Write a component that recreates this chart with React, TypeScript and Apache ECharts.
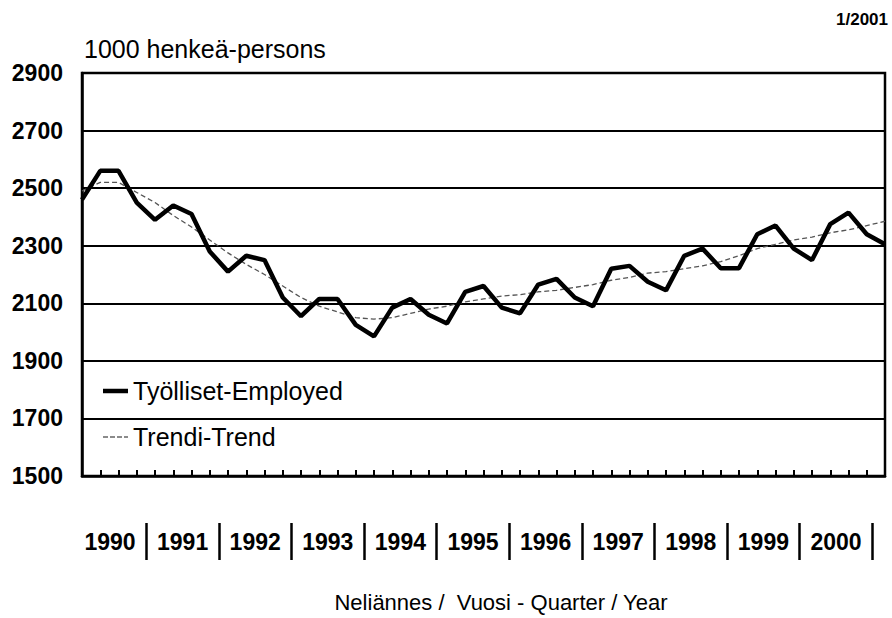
import React, { useEffect, useRef } from "react";
import * as echarts from "echarts";

const years: string[] = ["1990", "1991", "1992", "1993", "1994", "1995", "1996", "1997", "1998", "1999", "2000"];
const quarterNames: string[] = ["1", "2", "3", "4"];
const lastQuarter = "2001/1";
const quarters: string[] = [...years.flatMap((y) => quarterNames.map((q) => `${y}/${q}`)), lastQuarter];

const employed: number[] = [
  2460, 2560, 2560, 2450, 2390, 2440, 2410, 2280, 2210, 2265,
  2250, 2120, 2055, 2115, 2115, 2025, 1985, 2085, 2115, 2060,
  2030, 2140, 2160, 2085, 2065, 2165, 2185, 2120, 2090, 2220,
  2230, 2175, 2145, 2265, 2290, 2222, 2222, 2340, 2370, 2290,
  2250, 2375, 2415, 2340, 2305,
];

const trend: number[] = [
  2490, 2520, 2520, 2485, 2450, 2405, 2365, 2320, 2275, 2235,
  2200, 2160, 2120, 2090, 2070, 2050, 2045, 2050, 2065, 2080,
  2090, 2105, 2115, 2125, 2130, 2140, 2145, 2155, 2165, 2180,
  2190, 2205, 2210, 2220, 2230, 2245, 2265, 2290, 2305, 2320,
  2330, 2345, 2355, 2370, 2385,
];

const seriesNames: string[] = ["Työlliset-Employed", "Trendi-Trend"];
const yMin = 1500;
const yMax = 2900;
const yStep = 200;
const unitLabel = "1000 henkeä-persons";
const xTitle = "Neliännes /  Vuosi - Quarter / Year";
const issue = "1/2001";

const SANS = "'Liberation Sans', Arial, sans-serif";

const solidIcon = "path://M0,0h25v4.5h-25z";
const dashedIcon = "path://M0,0h5v1.3h-5z M7,0h5v1.3h-5z M14,0h5v1.3h-5z M21,0h4v1.3h-4z";

export default function App() {
  const ref = useRef<HTMLDivElement>(null);
  useEffect(() => {
    if (!ref.current) return;
    const chart = echarts.init(ref.current, undefined, { renderer: "svg" });
    chart.setOption({
      animation: false,
      backgroundColor: "#ffffff",
      title: {
        text: issue,
        right: 4,
        top: 11,
        padding: 0,
        textStyle: { fontFamily: SANS, fontSize: 17, fontWeight: "bold", color: "#000" },
      },
      legend: {
        orient: "vertical",
        left: 103,
        top: 376,
        padding: 0,
        itemWidth: 25,
        itemHeight: 14,
        itemGap: 16,
        symbolKeepAspect: true,
        data: [
          { name: seriesNames[0], icon: solidIcon, itemStyle: { color: "#000" } },
          { name: seriesNames[1], icon: dashedIcon, itemStyle: { color: "#666" } },
        ],
        textStyle: { fontFamily: SANS, fontSize: 25, lineHeight: 30, color: "#000" },
      },
      grid: [
        {
          left: 82, top: 73, width: 803, height: 403,
          outerBoundsMode: "none", containLabel: false,
          show: true, borderColor: "#000", borderWidth: 2.5, backgroundColor: "transparent",
        },
        { left: 73.7, top: 480, width: 798.6, height: 43, outerBoundsMode: "none", containLabel: false, show: false },
      ],
      xAxis: [
        {
          type: "category",
          gridIndex: 0,
          data: quarters,
          boundaryGap: false,
          axisLine: { show: true, lineStyle: { color: "#000", width: 2.5 } },
          axisTick: { show: true, inside: true, length: 6, interval: 0, lineStyle: { color: "#000", width: 2 } },
          axisLabel: { show: false },
          splitLine: { show: false },
        },
        {
          type: "category",
          gridIndex: 1,
          data: years,
          boundaryGap: true,
          position: "bottom",
          axisLine: { show: false },
          axisTick: {
            show: true,
            inside: false,
            length: 37,
            alignWithLabel: false,
            interval: (index: number) => index !== 0,
            lineStyle: { color: "#000", width: 2.5 },
          },
          axisLabel: {
            interval: 0,
            margin: 19,
            verticalAlign: "middle",
            fontFamily: SANS,
            fontSize: 23,
            fontWeight: "bold",
            color: "#000",
          },
          name: xTitle,
          nameLocation: "middle",
          nameGap: 68,
          nameMoveOverlap: false,
          nameTextStyle: { fontFamily: SANS, fontSize: 22, color: "#000", padding: [0, 0, 0, 56] },
          splitLine: { show: false },
        },
      ],
      yAxis: [
        {
          type: "value",
          gridIndex: 0,
          min: yMin,
          max: yMax,
          interval: yStep,
          axisLine: { show: true, lineStyle: { color: "#000", width: 2.5 } },
          axisTick: { show: false },
          axisLabel: {
            margin: 19,
            fontFamily: SANS,
            fontSize: 23,
            fontWeight: "bold",
            color: "#000",
            formatter: (v: number) => String(v),
          },
          splitLine: { show: true, lineStyle: { color: "#000", width: 2 } },
          name: unitLabel,
          nameLocation: "end",
          nameGap: 24,
          nameTextStyle: { fontFamily: SANS, fontSize: 25, color: "#000", align: "left", verticalAlign: "middle", padding: [0, 0, 0, 2] },
        },
        { type: "value", gridIndex: 1, show: false },
      ],
      series: [
        {
          name: seriesNames[1],
          type: "line",
          xAxisIndex: 0,
          yAxisIndex: 0,
          data: trend,
          symbol: "none",
          lineStyle: { color: "#555", width: 1.3, type: [5, 3] },
          itemStyle: { color: "#555" },
          z: 2,
        },
        {
          name: seriesNames[0],
          type: "line",
          xAxisIndex: 0,
          yAxisIndex: 0,
          data: employed,
          symbol: "none",
          lineStyle: { color: "#000", width: 4.5 },
          itemStyle: { color: "#000" },
          z: 3,
        },
      ],
    });
    return () => chart.dispose();
  }, []);
  return (
    <div
      ref={ref}
      style={{ position: "fixed", left: 0, top: 0, width: 892, height: 618, background: "#fff" }}
    />
  );
}
